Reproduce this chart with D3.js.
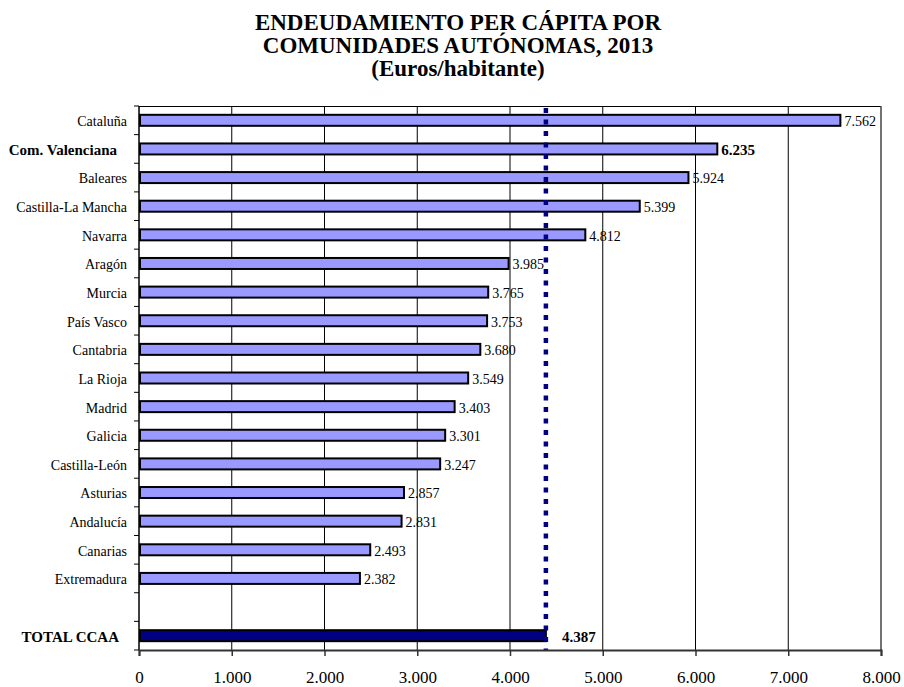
<!DOCTYPE html>
<html>
<head>
<meta charset="utf-8">
<script src="https://cdn.jsdelivr.net/npm/d3@7"></script>
<style>
  body { margin: 0; background: #fff; }
  svg { display: block; font-family: "Liberation Serif", "Times New Roman", serif; }
</style>
</head>
<body>
<svg id="chart" width="904" height="687"></svg>
<script>
var categories = ['Cataluña', 'Com. Valenciana', 'Baleares', 'Castilla-La Mancha',
  'Navarra', 'Aragón', 'Murcia', 'País Vasco', 'Cantabria', 'La Rioja', 'Madrid',
  'Galicia', 'Castilla-León', 'Asturias', 'Andalucía', 'Canarias', 'Extremadura'];
var values = [7562, 6235, 5924, 5399, 4812, 3985, 3765, 3753, 3680, 3549, 3403,
  3301, 3247, 2857, 2831, 2493, 2382];
var totalLabel = 'TOTAL CCAA';
var totalValue = 4387;
var highlighted = ['Com. Valenciana'];
var xTicks = [0, 1000, 2000, 3000, 4000, 5000, 6000, 7000, 8000];
var titleLines = ['ENDEUDAMIENTO PER CÁPITA POR', 'COMUNIDADES AUTÓNOMAS, 2013',
  '(Euros/habitante)'];

var margin = {top: 106, right: 23, bottom: 37, left: 139};
var width = 904 - margin.left - margin.right;
var height = 687 - margin.top - margin.bottom;

var es = d3.formatLocale({decimal: ',', thousands: '.', grouping: [3], currency: ['', ' €']});
var fmt = es.format(',d');

var svg = d3.select('#chart');

// title
svg.append('g').selectAll('text')
    .data(titleLines)
    .enter().append('text')
    .attr('x', 458)
    .attr('y', function(d, i) { return 30 + i * 23; })
    .attr('text-anchor', 'middle')
    .attr('font-size', 23)
    .attr('font-weight', 'bold')
    .text(function(d) { return d; });

var g = svg.append('g')
    .attr('transform', 'translate(' + margin.left + ',' + margin.top + ')');

var x = d3.scaleLinear().domain([0, 8000]).range([0, width]);
var rows = categories.concat(['', totalLabel]);
var y = d3.scaleBand().domain(rows).range([0, height]);
var barH = 13;

// vertical grid lines
g.append('g').selectAll('line')
    .data(xTicks.slice(1, -1))
    .enter().append('line')
    .attr('x1', function(d) { return x(d); })
    .attr('x2', function(d) { return x(d); })
    .attr('y1', 0).attr('y2', height)
    .attr('stroke', '#000').attr('stroke-width', 1);

// frame: top and right
g.append('line').attr('x1', 0).attr('x2', width).attr('y1', 0.5).attr('y2', 0.5)
    .attr('stroke', '#000');
g.append('line').attr('x1', width).attr('x2', width).attr('y1', 0).attr('y2', height)
    .attr('stroke', '#444').attr('stroke-width', 1.5);

// bars
g.append('g').selectAll('rect')
    .data(values)
    .enter().append('rect')
    .attr('x', x(0) + 1)
    .attr('y', function(d, i) { return y(categories[i]) + (y.bandwidth() - barH) / 2 + 1; })
    .attr('width', function(d) { return x(d) - x(0) - 1; })
    .attr('height', barH - 2)
    .attr('fill', '#9999ff')
    .attr('stroke', '#000')
    .attr('stroke-width', 2);

g.append('rect')
    .attr('x', x(0) + 1)
    .attr('y', y(totalLabel) + (y.bandwidth() - barH) / 2 + 1)
    .attr('width', x(totalValue) - x(0) - 1)
    .attr('height', barH - 2)
    .attr('fill', '#000080')
    .attr('stroke', '#000')
    .attr('stroke-width', 2);

// value labels
g.append('g').selectAll('text')
    .data(values)
    .enter().append('text')
    .attr('x', function(d) { return x(d) + 4; })
    .attr('y', function(d, i) { return y(categories[i]) + y.bandwidth() / 2 + 1; })
    .attr('dy', '0.35em')
    .attr('font-size', function(d, i) {
      return highlighted.indexOf(categories[i]) >= 0 ? 15 : 14;
    })
    .attr('font-weight', function(d, i) {
      return highlighted.indexOf(categories[i]) >= 0 ? 'bold' : 'normal';
    })
    .text(function(d) { return fmt(d); });

g.append('text')
    .attr('x', x(totalValue) + 16)
    .attr('y', y(totalLabel) + y.bandwidth() / 2 + 1)
    .attr('dy', '0.35em')
    .attr('font-size', 15)
    .attr('font-weight', 'bold')
    .text(fmt(totalValue));

// average line
g.append('line')
    .attr('x1', x(totalValue)).attr('x2', x(totalValue))
    .attr('y1', 2).attr('y2', height)
    .attr('stroke', '#000080')
    .attr('stroke-width', 4.5)
    .attr('stroke-dasharray', '5 6.5');

// y axis line and ticks on band boundaries
var bounds = rows.map(function(r) { return y(r); }).concat([height]);
g.append('g').selectAll('line')
    .data(bounds)
    .enter().append('line')
    .attr('x1', -5).attr('x2', 0)
    .attr('y1', function(d) { return d; }).attr('y2', function(d) { return d; })
    .attr('stroke', '#000');
g.append('line').attr('x1', 0).attr('x2', 0).attr('y1', 0).attr('y2', height)
    .attr('stroke', '#000').attr('stroke-width', 1.5);

// category labels
g.append('g').selectAll('text')
    .data(rows.filter(function(r) { return r !== ''; }))
    .enter().append('text')
    .attr('x', function(d) {
      if (d === totalLabel) return -20;
      return highlighted.indexOf(d) >= 0 ? -22 : -12;
    })
    .attr('y', function(d) { return y(d) + y.bandwidth() / 2 + 1; })
    .attr('dy', '0.35em')
    .attr('text-anchor', 'end')
    .attr('font-size', function(d) {
      return (d === totalLabel || highlighted.indexOf(d) >= 0) ? 15 : 14;
    })
    .attr('font-weight', function(d) {
      return (d === totalLabel || highlighted.indexOf(d) >= 0) ? 'bold' : 'normal';
    })
    .text(function(d) { return d; });

// x axis
var xAxis = g.append('g')
    .attr('transform', 'translate(0,' + height + ')')
    .call(d3.axisBottom(x).tickValues(xTicks).tickFormat(fmt).tickSize(6).tickPadding(15));
xAxis.select('.domain').attr('stroke', '#333').attr('stroke-width', 2);
xAxis.selectAll('.tick line').attr('stroke', '#333').attr('stroke-width', 1.5);
xAxis.selectAll('.tick text')
    .attr('font-family', '"Liberation Serif", "Times New Roman", serif')
    .attr('font-size', 17)
    .attr('fill', '#000');
</script>
</body>
</html>
